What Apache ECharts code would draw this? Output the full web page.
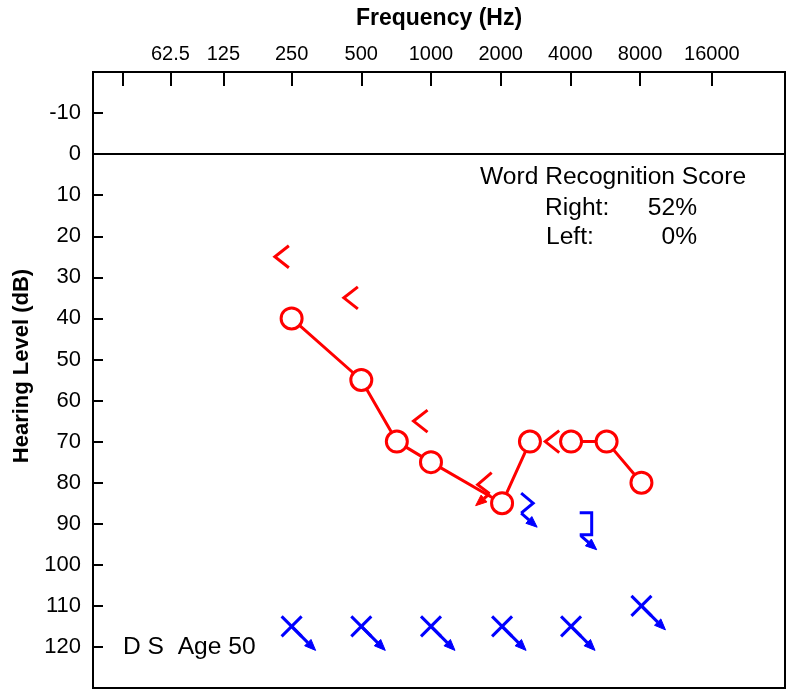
<!DOCTYPE html>
<html>
<head>
<meta charset="utf-8">
<script src="https://cdn.jsdelivr.net/npm/echarts@6/dist/echarts.min.js"></script>
<style>
html, body { margin: 0; padding: 0; background: #fff; }
#chart-panel { width: 794px; height: 693px; }
</style>
</head>
<body>
<div id="chart-panel"></div>
<script>
// x is measured in octaves from 1000 Hz, as printed on the chart's frequency scale
var tickPos = [-4.42, -3.74, -2.98, -2, -1, 0, 1, 2, 3, 4.03];
var tickLabels = ['', '62.5', '125', '250', '500', '1000', '2000', '4000', '8000', '16000'];

// right ear, air conduction (O), joined by a line; no line between 3000 and 4000
var rightAirFreq = [250, 500, 750, 1000, 2000, 3000, 4000, 6000, 8000];
var rightAirPos = [-2, -1, -0.49, 0, 1.02, 1.42, 2.01, 2.52, 3.02];
var rightAirDb = [40, 55, 70, 75, 85, 70, 70, 70, 80];
var rightAirBreakAfter = 5;

// right ear, bone conduction (<)
var rightBonePos = [-2.14, -1.15, -0.15, 1.74];
var rightBoneDb = [25, 35, 65, 70];
// right ear, bone, no response (< with arrow)
var rightBoneNrPos = [0.77];
var rightBoneNrDb = [80];

// left ear, air, no response (X with arrow)
var leftAirNrPos = [-2, -1, 0, 1.02, 2.01, 3.02];
var leftAirNrDb = [115, 115, 115, 115, 115, 110];
// left ear, bone, no response (> with arrow)
var leftBoneNrPos = [1.38];
var leftBoneNrDb = [85];
// left ear, masked bone, no response (] with arrow)
var leftMaskNrPos = [2.22];
var leftMaskNrDb = [90];

var RED = '#ff0000';
var BLUE = '#0000ff';
var FONT = 'Liberation Sans, Arial, sans-serif';

function pline(pts, color) {
    return {
        type: 'polyline',
        shape: { points: pts },
        style: { stroke: color, lineWidth: 3, fill: null, lineJoin: 'miter' }
    };
}
// shaft from a to b with a filled head at b
function arrow(a, b, color) {
    var dx = b[0] - a[0], dy = b[1] - a[1];
    var len = Math.sqrt(dx * dx + dy * dy);
    dx /= len; dy /= len;
    var bx = b[0] - dx * 11, by = b[1] - dy * 11;
    var nx = -dy * 4.5, ny = dx * 4.5;
    return [
        pline([a, [bx, by]], color),
        {
            type: 'polygon',
            shape: { points: [b, [bx + nx, by + ny], [bx - nx, by - ny]] },
            style: { fill: color, stroke: color, lineWidth: 1 }
        }
    ];
}
function rel(cx, cy, list) {
    return list.map(function (p) { return [cx + p[0], cy + p[1]]; });
}

var shapes = {
    boneRight: function (x, y) {
        return [pline(rel(x, y, [[7, -11], [-7, 0], [7, 11]]), RED)];
    },
    boneRightNr: function (x, y) {
        var p = rel(x, y, [[7, -10], [-7, 2], [5, 11], [-9, 23]]);
        return [pline([p[0], p[1], p[2]], RED)].concat(arrow(p[2], p[3], RED));
    },
    airLeftNr: function (x, y) {
        var p = rel(x, y, [[-10, -10], [10, 10], [-10, 10], [10, -10], [0, 0], [24, 24]]);
        return [pline([p[0], p[1]], BLUE), pline([p[2], p[3]], BLUE)].concat(arrow(p[4], p[5], BLUE));
    },
    boneLeftNr: function (x, y) {
        var p = rel(x, y, [[-6, -10], [6, 0], [-6, 10], [10, 24]]);
        return [pline([p[0], p[1], p[2]], BLUE)].concat(arrow(p[2], p[3], BLUE));
    },
    maskLeftNr: function (x, y) {
        var p = rel(x, y, [[-6, -11], [6, -11], [6, 11], [-6, 11], [-5, 12], [11, 26]]);
        return [pline([p[0], p[1], p[2], p[3]], BLUE)].concat(arrow(p[4], p[5], BLUE));
    }
};

function symbolSeries(pos, db, kind) {
    return {
        type: 'custom',
        z: 4,
        silent: true,
        data: pos.map(function (x, i) { return [x, db[i]]; }),
        renderItem: function (params, api) {
            var c = api.coord([api.value(0), api.value(1)]);
            return { type: 'group', children: shapes[kind](c[0], c[1]) };
        }
    };
}

var airData = [];
for (var i = 0; i < rightAirPos.length; i++) {
    airData.push([rightAirPos[i], rightAirDb[i], rightAirFreq[i]]);
    if (i === rightAirBreakAfter) airData.push([rightAirPos[i], '-']);
}

function tickText(v) {
    for (var k = 0; k < tickPos.length; k++) {
        if (Math.abs(tickPos[k] - v) < 1e-6) return tickLabels[k];
    }
    return '';
}

var option = {
    animation: false,
    backgroundColor: '#fff',
    textStyle: { fontFamily: FONT, color: '#000' },
    grid: {
        left: 93, top: 72, right: 9, bottom: 5,
        show: true, borderColor: '#000', borderWidth: 2
    },
    xAxis: {
        type: 'value',
        position: 'top',
        min: -4.85,
        max: 5.08,
        name: 'Frequency (Hz)',
        nameLocation: 'middle',
        nameGap: 42,
        nameTextStyle: { fontSize: 23, fontWeight: 'bold', color: '#000', fontFamily: FONT },
        axisLine: { onZero: false, lineStyle: { color: '#000', width: 2 } },
        axisTick: { inside: true, length: 14, customValues: tickPos, lineStyle: { color: '#000', width: 2 } },
        axisLabel: {
            customValues: tickPos.slice(1),
            formatter: tickText,
            fontSize: 20, color: '#000', margin: 8, fontFamily: FONT
        },
        splitLine: { show: false }
    },
    yAxis: {
        type: 'value',
        inverse: true,
        min: -20,
        max: 130,
        interval: 10,
        axisLine: { onZero: false, lineStyle: { color: '#000', width: 2 } },
        axisTick: { inside: true, length: 10, lineStyle: { color: '#000', width: 2 } },
        axisLabel: {
            formatter: function (v) { return (v === -20 || v === 130) ? '' : v; },
            fontSize: 22, color: '#000', margin: 12, fontFamily: FONT
        },
        splitLine: { show: false }
    },
    graphic: [
        {
            type: 'text', x: 22, y: 366, rotation: Math.PI / 2,
            style: { text: 'Hearing Level (dB)', font: 'bold 22px ' + FONT, fill: '#000', textAlign: 'center', textVerticalAlign: 'middle' }
        },
        {
            type: 'text', x: 480, y: 177,
            style: { text: 'Word Recognition Score', font: '24.6px ' + FONT, fill: '#000', textAlign: 'left', textVerticalAlign: 'middle' }
        },
        {
            type: 'text', x: 545, y: 208,
            style: { text: 'Right:', font: '24.6px ' + FONT, fill: '#000', textAlign: 'left', textVerticalAlign: 'middle' }
        },
        {
            type: 'text', x: 697, y: 208,
            style: { text: '52%', font: '24.6px ' + FONT, fill: '#000', textAlign: 'right', textVerticalAlign: 'middle' }
        },
        {
            type: 'text', x: 546, y: 237,
            style: { text: 'Left:', font: '24.6px ' + FONT, fill: '#000', textAlign: 'left', textVerticalAlign: 'middle' }
        },
        {
            type: 'text', x: 697, y: 237,
            style: { text: '0%', font: '24.6px ' + FONT, fill: '#000', textAlign: 'right', textVerticalAlign: 'middle' }
        },
        {
            type: 'text', x: 123, y: 647,
            style: { text: 'D S  Age 50', font: '24.6px ' + FONT, fill: '#000', textAlign: 'left', textVerticalAlign: 'middle' }
        }
    ],
    series: [
        {
            type: 'line',
            z: 3,
            data: airData,
            connectNulls: false,
            symbol: 'circle',
            symbolSize: 21,
            itemStyle: { color: '#fff', borderColor: RED, borderWidth: 3 },
            lineStyle: { color: RED, width: 3 },
            markLine: {
                silent: true,
                symbol: 'none',
                label: { show: false },
                lineStyle: { color: '#000', width: 2, type: 'solid' },
                data: [{ yAxis: 0 }]
            }
        },
        symbolSeries(rightBonePos, rightBoneDb, 'boneRight'),
        symbolSeries(rightBoneNrPos, rightBoneNrDb, 'boneRightNr'),
        symbolSeries(leftAirNrPos, leftAirNrDb, 'airLeftNr'),
        symbolSeries(leftBoneNrPos, leftBoneNrDb, 'boneLeftNr'),
        symbolSeries(leftMaskNrPos, leftMaskNrDb, 'maskLeftNr')
    ]
};

var myChart = echarts.init(document.getElementById('chart-panel'));
myChart.setOption(option);
</script>
</body>
</html>
